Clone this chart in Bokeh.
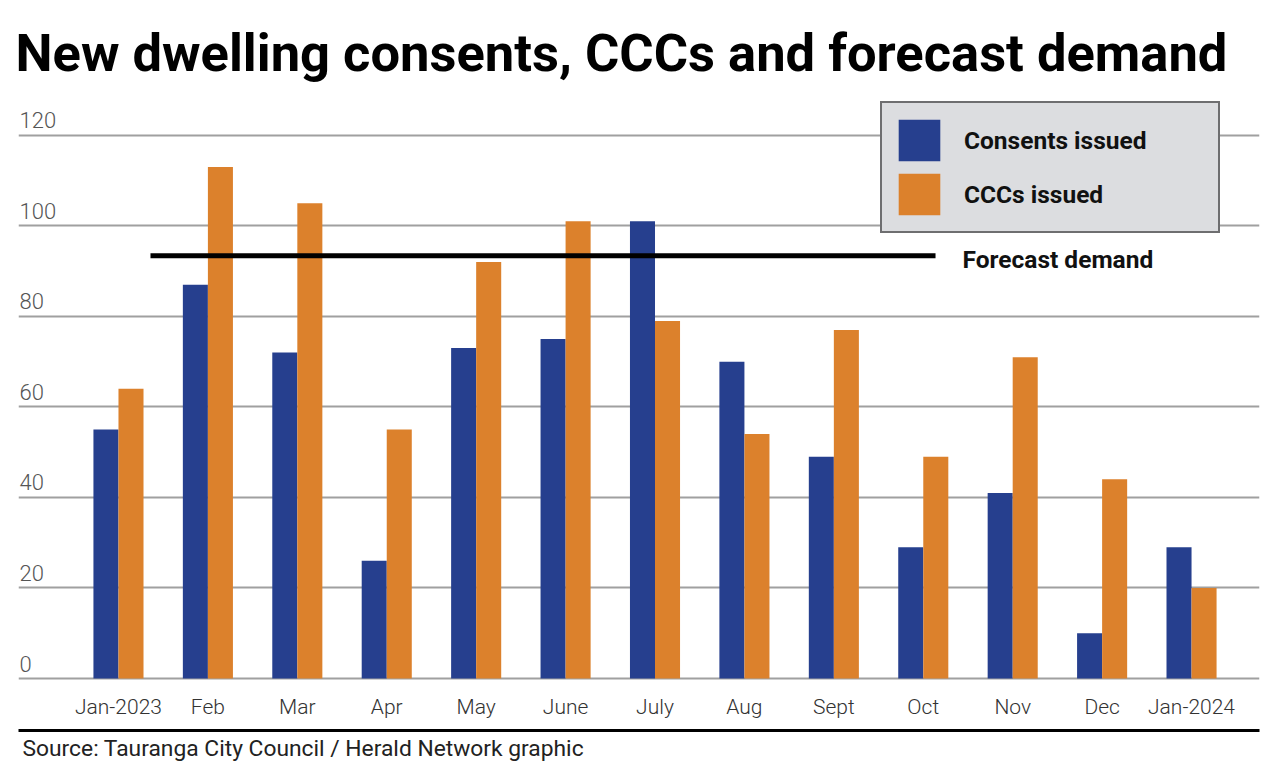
from bokeh.plotting import figure
from bokeh.models import Range1d, FixedTicker, LinearAxis, Legend, LegendItem, Title, ColumnDataSource
from bokeh.transform import dodge
from bokeh.core.properties import value
from bokeh.embed import file_html
from bokeh.resources import INLINE

# ---- data ----
months = ["Jan-2023", "Feb", "Mar", "Apr", "May", "June", "July", "Aug", "Sept", "Oct", "Nov", "Dec", "Jan-2024"]
consents = [55, 87, 72, 26, 73, 75, 101, 70, 49, 29, 41, 10, 29]
cccs = [64, 113, 105, 55, 92, 101, 79, 54, 77, 49, 71, 44, 20]
forecast_demand = 93.4
y_ticks = [0, 20, 40, 60, 80, 100, 120]
title_text = "New dwelling consents, CCCs and forecast demand"
source_text = "Source: Tauranga City Council / Herald Network graphic"

# ---- styles / layout ----
BLUE = "#263f8e"
ORANGE = "#dc812c"
X0, X1 = -1.118, 12.76
Y0, Y1 = -0.44, 127.7
FC_X0, FC_X1 = 0.358, 9.137

xs = list(range(len(months)))
src = ColumnDataSource(dict(x=xs, consents=consents, cccs=cccs))

p = figure(width=1276, height=764, output_backend="svg", toolbar_location=None,
           x_range=Range1d(X0, X1), y_range=Range1d(Y0, Y1),
           min_border_left=18, min_border_right=17, min_border_top=100, min_border_bottom=84,
           title=title_text)
p.outline_line_color = None
p.background_fill_color = "white"
p.border_fill_color = "white"

p.title.text_font = "Roboto"
p.title.text_font_style = "bold"
p.title.text_font_size = "52.5px"
p.title.text_color = "black"
p.title.align = "left"
p.title.offset = -3
p.title.standoff = 34

# y axis hidden, grid kept
p.yaxis.ticker = FixedTicker(ticks=y_ticks)
p.yaxis.visible = False
p.ygrid.grid_line_color = "#a0a0a0"
p.ygrid.grid_line_width = 2
p.xgrid.visible = False

# x axis
p.xaxis.ticker = FixedTicker(ticks=xs)
p.xaxis.major_label_overrides = {i: m for i, m in zip(xs, months)}
p.xaxis.axis_line_color = None
p.xaxis.major_tick_line_color = None
p.xaxis.minor_tick_line_color = None
p.xaxis.major_label_text_font = "Roboto Light"
p.xaxis.major_label_text_font_size = "21px"
p.xaxis.major_label_text_color = "#333333"
p.xaxis.major_label_standoff = 8
p.xaxis.axis_label = " "
p.xaxis.axis_label_text_font_size = "5px"
p.xaxis.axis_label_standoff = 0

ax2 = LinearAxis(ticker=FixedTicker(ticks=[]), axis_line_color="black", axis_line_width=3,
                 major_tick_line_color=None, minor_tick_line_color=None,
                 major_label_text_font_size="0px")
p.add_layout(ax2, "below")

src_title = Title(text=source_text, align="left", text_font="Roboto", text_font_style="normal",
                  text_font_size="22.8px", text_color="#222222", offset=4, standoff=4)
p.add_layout(src_title, "below")

# bars
r1 = p.vbar(x=dodge("x", -0.14, range=p.x_range), top="consents", bottom=0, width=0.28,
            source=src, fill_color=BLUE, line_color=None)
r2 = p.vbar(x=dodge("x", 0.14, range=p.x_range), top="cccs", bottom=0, width=0.28,
            source=src, fill_color=ORANGE, line_color=None)

# forecast line
p.segment(x0=[FC_X0], y0=[forecast_demand], x1=[FC_X1], y1=[forecast_demand],
          line_color="black", line_width=5)
p.text(x=[FC_X1], y=[forecast_demand], text=["Forecast demand"], x_offset=27, y_offset=4,
       text_font=value("Roboto"), text_font_style="bold", text_font_size="24.5px",
       text_color="#111111", text_baseline="alphabetic", text_align="left")

# y tick labels
p.text(x=[X0] * len(y_ticks), y=y_ticks, text=[str(t) for t in y_ticks], x_offset=1, y_offset=-15,
       text_font=value("Roboto Light"), text_font_size="22px", text_color="#555555",
       text_baseline="alphabetic", text_align="left")

legend = Legend(items=[LegendItem(label="Consents issued", renderers=[r1]),
                       LegendItem(label="CCCs issued", renderers=[r2])],
                location=(862, 447), margin=0, padding=11, spacing=2,
                glyph_width=52, glyph_height=52, label_standoff=19, label_width=243,
                label_text_font="Roboto", label_text_font_style="bold", label_text_font_size="24.5px",
                label_text_color="#111111",
                background_fill_color="#dcdde0", background_fill_alpha=1.0,
                border_line_color="black", border_line_width=2)
p.add_layout(legend)

open("out.html", "w").write(file_html(p, INLINE))
